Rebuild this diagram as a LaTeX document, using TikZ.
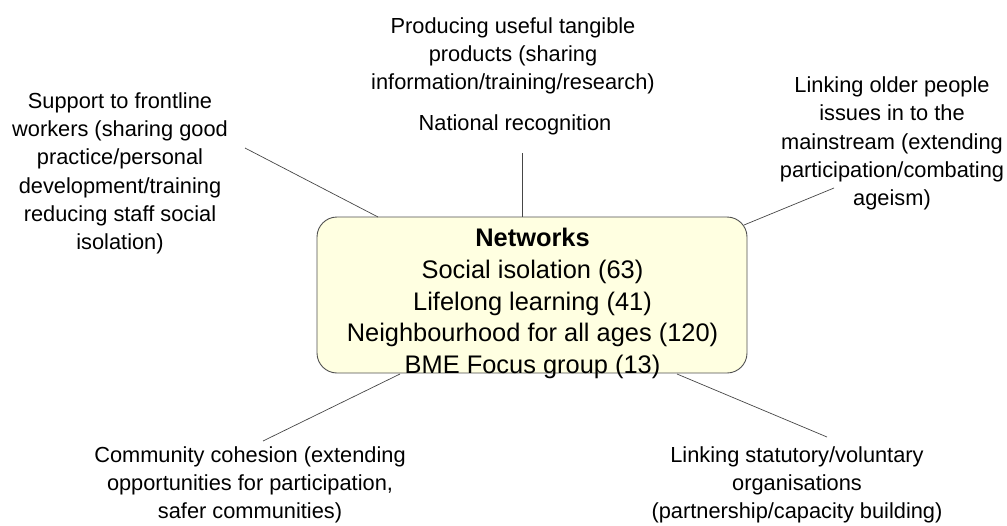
\documentclass[tikz,border=0pt]{standalone}
\usepackage{fontspec}
\setmainfont{Liberation Sans}
\definecolor{boxfill}{RGB}{255,255,225}
\definecolor{boxborder}{RGB}{80,80,80}
\definecolor{linkgray}{RGB}{70,70,70}
\begin{document}
\begin{tikzpicture}[x=1pt,y=-1pt,
  lbl/.style={align=center, inner sep=0pt, font=\fontsize{21.8}{28.3}\selectfont},
  link/.style={draw=linkgray, line width=0.7pt},
  hub/.style={draw=boxborder, fill=boxfill, rounded corners=20pt, line width=0.9pt,
    minimum width=430pt, minimum height=156pt, inner sep=0pt},
  hubtext/.style={align=center, inner sep=0pt, font=\fontsize{25.4}{31.8}\selectfont}]
\useasboundingbox (0,0) rectangle (1007,525);

% central box
\node[hub] (box) at (532,295) {};
\node[hubtext] (boxtext) at (532.5,303.5) {\textbf{Networks}\\Social isolation (63)\\Lifelong learning (41)\\Neighbourhood for all ages (120)\\BME Focus group (13)};

% outer labels
\node[lbl] (support) at (120,173.5) {Support to frontline\\workers (sharing good\\practice/personal\\development/training\\reducing staff social\\isolation)};
\node[lbl] (products) at (513,56) {Producing useful tangible\\products (sharing\\information/training/research)};
\node[lbl] (national) at (515,125) {National recognition};
\node[lbl] (mainstream) at (892,143.5) {Linking older people\\issues in to the\\mainstream (extending\\participation/combating\\ageism)};
\node[lbl] (cohesion) at (250,485) {Community cohesion (extending\\opportunities for participation,\\safer communities)};
\node[lbl] (statutory) at (797,485) {Linking statutory/voluntary\\organisations\\(partnership/capacity building)};

% connector ends
\coordinate (sA) at (245,148);  \coordinate (bA) at (378,217);
\coordinate (nA) at (522,153);  \coordinate (bB) at (522,217);
\coordinate (mA) at (834,188);  \coordinate (bC) at (744,225);
\coordinate (cA) at (263,441);  \coordinate (bD) at (400,374);
\coordinate (tA) at (827,437);  \coordinate (bE) at (677,374);

\draw[link] (sA) -- (bA);
\draw[link, line width=1pt] (nA) -- (bB);
\draw[link] (mA) -- (bC);
\draw[link] (cA) -- (bD);
\draw[link] (tA) -- (bE);
\end{tikzpicture}
\end{document}
